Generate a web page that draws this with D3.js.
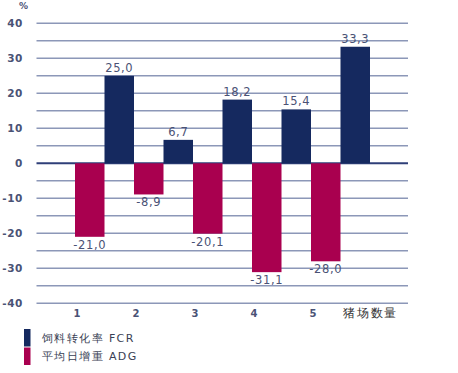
<!DOCTYPE html>
<html>
<head>
<meta charset="utf-8">
<script src="https://cdn.jsdelivr.net/npm/d3@7"></script>
<style>
  body { margin: 0; background: #fff; }
  text { font-family: "DejaVu Sans", sans-serif; }
</style>
</head>
<body>
<script>
// data
var farms = ['1', '2', '3', '4', '5']
var adg = [-21.0, -8.9, -20.1, -31.1, -28.0]   // 平均日增重 ADG
var fcr = [25.0, 6.7, 18.2, 15.4, 33.3]        // 饲料转化率 FCR
var yTicks = [40, 30, 20, 10, 0, -10, -20, -30, -40]
var legendNames = ['饲料转化率 FCR', '平均日增重 ADG']

var width = 458,
    height = 373
var navy = '#15295f',
    red = '#a9004f',
    grid = '#8c97b8',
    txt = '#4a5275'

var svg = d3.select('body').append('svg')
    .attr('width', width)
    .attr('height', height)

var y = d3.scaleLinear()
    .domain([-40, 40])
    .range([303.3, 23.3])

var x = d3.scaleBand()
    .domain(farms)
    .range([75, 370])
    .paddingInner(0)
var half = x.bandwidth() / 2

// grid lines every 5
var gridVals = d3.range(-40, 41, 5)
svg.append('g').selectAll('line')
    .data(gridVals).enter()
    .append('line')
    .attr('x1', 36.5)
    .attr('x2', 408)
    .attr('y1', d => y(d))
    .attr('y2', d => y(d))
    .attr('stroke', d => d == 0 ? '#2f3f78' : grid)
    .attr('stroke-width', d => d == 0 ? 2 : 1.4)

// y tick labels
svg.append('g').selectAll('text')
    .data(yTicks).enter()
    .append('text')
    .attr('x', 23)
    .attr('y', d => y(d))
    .attr('dy', '0.35em')
    .attr('text-anchor', 'end')
    .attr('font-size', 10.5)
    .attr('font-weight', 'bold')
    .attr('letter-spacing', 0.6)
    .attr('fill', txt)
    .text(d => d)

svg.append('text')
    .attr('x', 19)
    .attr('y', 9)
    .attr('font-size', 9)
    .attr('font-weight', 'bold')
    .attr('fill', txt)
    .text('%')

// ADG bars (left half of each band)
svg.append('g').selectAll('rect')
    .data(adg).enter()
    .append('rect')
    .attr('x', (d, i) => x(farms[i]))
    .attr('width', half)
    .attr('y', y(0))
    .attr('height', d => y(d) - y(0))
    .attr('fill', red)

// FCR bars (right half)
svg.append('g').selectAll('rect')
    .data(fcr).enter()
    .append('rect')
    .attr('x', (d, i) => x(farms[i]) + half)
    .attr('width', half)
    .attr('y', d => y(d))
    .attr('height', d => y(0) - y(d))
    .attr('fill', navy)

var fmt = v => v.toFixed(1).replace('.', ',')

svg.append('g').selectAll('text')
    .data(adg).enter()
    .append('text')
    .attr('x', (d, i) => x(farms[i]) + half / 2)
    .attr('y', d => y(d) + 12)
    .attr('text-anchor', 'middle')
    .attr('font-size', 11.5)
    .attr('letter-spacing', 0.6)
    .attr('fill', txt)
    .text(d => fmt(d))

svg.append('g').selectAll('text')
    .data(fcr).enter()
    .append('text')
    .attr('x', (d, i) => x(farms[i]) + half * 1.5)
    .attr('y', d => y(d) - 4)
    .attr('text-anchor', 'middle')
    .attr('font-size', 11.5)
    .attr('letter-spacing', 0.6)
    .attr('fill', txt)
    .text(d => fmt(d))

// x labels
svg.append('g').selectAll('text')
    .data(farms).enter()
    .append('text')
    .attr('x', d => x(d) + 2)
    .attr('y', 313)
    .attr('dy', '0.35em')
    .attr('text-anchor', 'middle')
    .attr('font-size', 10)
    .attr('font-weight', 'bold')
    .attr('fill', txt)
    .text(d => d)

svg.append('text')
    .attr('x', 343)
    .attr('y', 313)
    .attr('dy', '0.35em')
    .attr('font-size', 11.5)
    .attr('letter-spacing', 1.8)
    .attr('font-family', '"Noto Sans CJK SC", sans-serif')
    .attr('fill', '#333')
    .text('猪场数量')

// legend
var legend = svg.append('g').selectAll('g')
    .data(legendNames).enter()
    .append('g')
    .attr('transform', (d, i) => 'translate(24,' + (329 + i * 18.5) + ')')
legend.append('rect')
    .attr('width', 6.5)
    .attr('height', 17.5)
    .attr('fill', (d, i) => i == 0 ? navy : red)
legend.append('text')
    .attr('x', 18)
    .attr('y', 9)
    .attr('dy', '0.35em')
    .attr('font-size', 11)
    .attr('letter-spacing', 1.4)
    .attr('font-family', '"Noto Sans CJK SC", sans-serif')
    .attr('fill', '#3a3f55')
    .text(d => d)
</script>
</body>
</html>
